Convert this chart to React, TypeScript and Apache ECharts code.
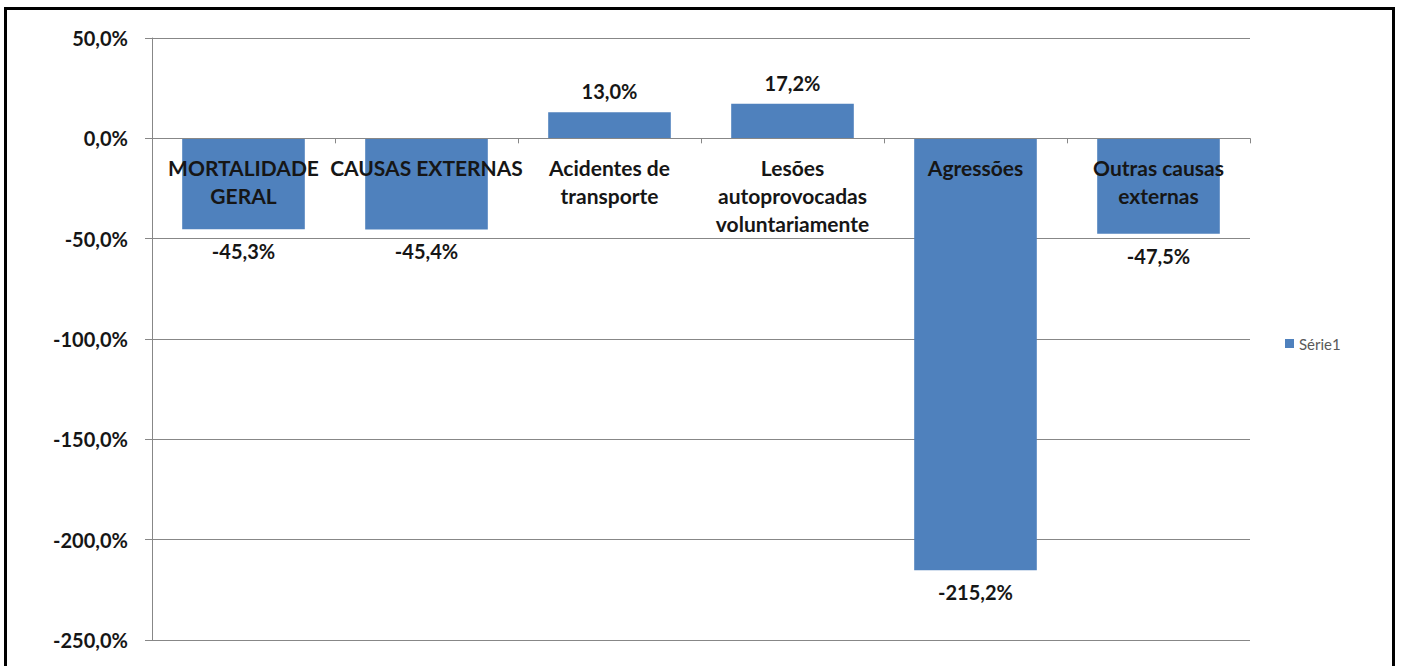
import React, { useEffect, useRef } from "react";
import * as echarts from "echarts";

const categories = [
  "MORTALIDADE\nGERAL",
  "CAUSAS EXTERNAS",
  "Acidentes de\ntransporte",
  "Lesões\nautoprovocadas\nvoluntariamente",
  "Agressões",
  "Outras causas\nexternas",
];
const values = [-45.3, -45.4, 13.0, 17.2, -215.2, -47.5];
const seriesName = "Série1";
const yMin = -250;
const yMax = 50;
const yStep = 50;

const fmt = (v: number) => v.toFixed(1).replace(".", ",") + "%";

export default function App() {
  const ref = useRef<HTMLDivElement>(null);
  useEffect(() => {
    document.body.style.margin = "0";
    const chart = echarts.init(ref.current!, null, { renderer: "svg" });
    const font = "Lato, 'Open Sans', sans-serif";
    const textColor = "#161616";
    const gridColor = "#878787";
    const gridTop = 38;
    const gridBottom = 26;
    const plotH = 666 - gridTop - gridBottom;
    const zeroOffset = (plotH * yMax) / (yMax - yMin);
    chart.setOption({
      animation: false,
      backgroundColor: "#ffffff",
      graphic: [
        {
          type: "rect",
          shape: { x: 5.5, y: 8.5, width: 1388, height: 680 },
          style: { fill: "none", stroke: "#000", lineWidth: 3 },
          silent: true,
        },
      ],
      legend: {
        data: [seriesName],
        left: 1280,
        top: 331,
        icon: "rect",
        itemWidth: 9,
        itemHeight: 9,
        itemGap: 4,
        textStyle: { fontFamily: font, fontSize: 15, color: "#595959" },
      },
      grid: {
        left: 152,
        right: 158,
        top: gridTop,
        bottom: gridBottom,
        containLabel: false,
        outerBoundsMode: "none",
      },
      xAxis: {
        type: "category",
        data: categories,
        position: "top",
        offset: -zeroOffset,
        z: 10,
        axisLine: { onZero: false, lineStyle: { color: gridColor, width: 1 } },
        axisTick: { show: true, inside: true, length: 5, lineStyle: { color: gridColor } },
        axisLabel: {
          inside: true,
          interval: 0,
          margin: 15,
          fontFamily: font,
          fontWeight: "bold",
          fontSize: 21,
          lineHeight: 28,
          color: textColor,
        },
        splitLine: { show: false },
      },
      yAxis: {
        type: "value",
        min: yMin,
        max: yMax,
        interval: yStep,
        axisLine: { show: true, lineStyle: { color: gridColor, width: 1 } },
        axisTick: { show: true, length: 7, lineStyle: { color: gridColor } },
        axisLabel: {
          formatter: (v: number) => fmt(v),
          margin: 24,
          fontFamily: font,
          fontWeight: "bold",
          fontSize: 20,
          color: textColor,
        },
        splitLine: { show: true, lineStyle: { color: gridColor, width: 1 } },
      },
      series: [
        {
          name: seriesName,
          type: "bar",
          barWidth: "67%",
          itemStyle: { color: "#4F81BD" },
          z: 1,
          data: values.map((v) => ({
            value: v,
            label: {
              show: true,
              position: v >= 0 ? "top" : "bottom",
              distance: v >= 0 ? 11 : 12,
              formatter: () => fmt(v),
              fontFamily: font,
              fontWeight: "bold",
              fontSize: 20,
              color: textColor,
            },
          })),
        },
      ],
    });
    return () => chart.dispose();
  }, []);
  return (
    <div
      ref={ref}
      style={{ position: "absolute", left: 0, top: 0, width: 1408, height: 666 }}
    />
  );
}
